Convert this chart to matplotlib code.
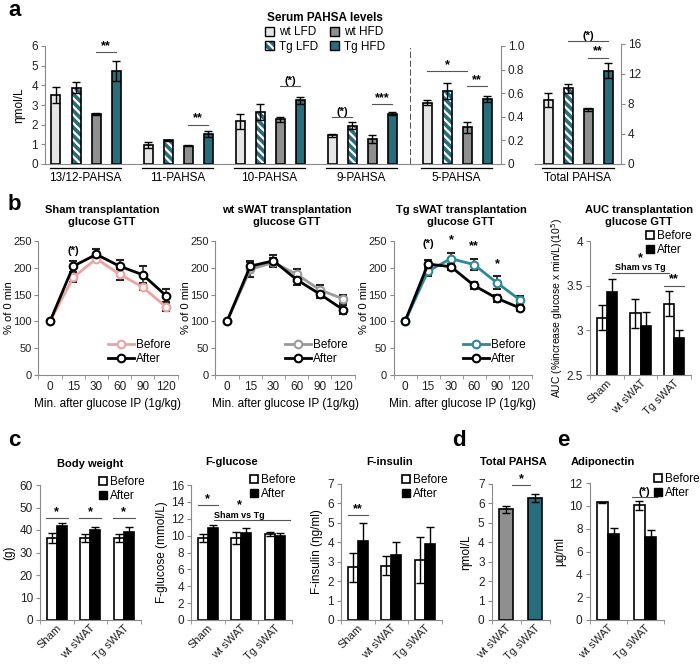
import numpy as np
import matplotlib
matplotlib.use('Agg')
import matplotlib.pyplot as plt
from matplotlib.patches import Patch
from matplotlib.lines import Line2D

plt.rcParams['font.family'] = ['Liberation Sans', 'DejaVu Sans']
plt.rcParams['hatch.linewidth'] = 1.6

# ---- panel a data (nmol/L) ----
pahsa_groups = ['13/12-PAHSA', '11-PAHSA', '10-PAHSA', '9-PAHSA']
wt_lfd = [3.5, 0.97, 2.18, 1.47]
wt_lfd_err = [0.4, 0.16, 0.38, 0.08]
tg_lfd = [3.87, 1.21, 2.64, 1.95]
tg_lfd_err = [0.28, 0.03, 0.42, 0.17]
wt_hfd = [2.55, 0.92, 2.28, 1.28]
wt_hfd_err = [0.05, 0.03, 0.12, 0.2]
tg_hfd = [4.73, 1.53, 3.24, 2.55]
tg_hfd_err = [0.5, 0.16, 0.17, 0.07]

five_pahsa = [0.52, 0.62, 0.31, 0.55]
five_pahsa_err = [0.02, 0.07, 0.05, 0.025]
total_pahsa = [8.5, 10.1, 7.3, 12.4]
total_pahsa_err = [0.9, 0.6, 0.2, 1.0]
diet_labels = ['wt LFD', 'Tg LFD', 'wt HFD', 'Tg HFD']

# ---- panel b data (% of 0 min) ----
gtt_times = ['0', '15', '30', '60', '90', '120']
sham_before = [100, 182, 217, 188, 164, 127]
sham_before_err = [3, 8, 6, 10, 6, 7]
sham_after = [100, 203, 225, 203, 187, 148]
sham_after_err = [3, 10, 10, 12, 16, 12]
wt_before = [100, 197, 210, 188, 159, 142]
wt_before_err = [3, 14, 8, 10, 9, 8]
wt_after = [100, 203, 213, 178, 151, 122]
wt_after_err = [3, 10, 10, 10, 8, 8]
tg_before = [100, 194, 217, 206, 172, 140]
tg_before_err = [3, 10, 10, 10, 12, 7]
tg_after = [100, 207, 202, 167, 143, 125]
tg_after_err = [3, 8, 6, 7, 7, 5]

transplant = ['Sham', 'wt sWAT', 'Tg sWAT']
auc_before = [3.14, 3.19, 3.30]
auc_before_err = [0.14, 0.16, 0.14]
auc_after = [3.43, 3.05, 2.91]
auc_after_err = [0.15, 0.16, 0.09]

# ---- panel c/d/e data ----
bw_before = [36.5, 36.5, 36.5]
bw_before_err = [2.3, 1.8, 1.7]
bw_after = [41.8, 40.0, 39.3]
bw_after_err = [1.4, 1.3, 2.0]
fg_before = [9.7, 9.7, 10.2]
fg_before_err = [0.5, 0.75, 0.25]
fg_after = [10.9, 10.3, 10.0]
fg_after_err = [0.4, 0.6, 0.35]
fi_before = [2.72, 2.8, 3.1]
fi_before_err = [0.75, 0.5, 1.17]
fi_after = [4.05, 3.33, 3.93]
fi_after_err = [0.95, 0.67, 0.85]
sub_labels = ['wt sWAT', 'Tg sWAT']
sub_pahsa = [5.69, 6.27]
sub_pahsa_err = [0.17, 0.22]
adipo_before = [10.3, 10.05]
adipo_before_err = [0.07, 0.4]
adipo_after = [7.5, 7.25]
adipo_after_err = [0.6, 0.6]

TEAL = '#276d7c'
LIGHT = '#e6e6e6'
MID = '#8f8f8f'
AXC = '#8a8a8a'
HATCH = '\\\\\\\\'
W, H = 700, 665
TICK_FS = 8.5

fig = plt.figure(figsize=(7, 6.65), dpi=100)


def px_axes(x0, y0, x1, y1):
    ax = fig.add_axes([x0 / W, 1 - y1 / H, (x1 - x0) / W, (y1 - y0) / H])
    ax._px = (x0, x1)
    return ax


def ftext(x, y, s, **kw):
    fig.text(x / W, 1 - y / H, s, **kw)


def ylabel_at(ax, text, x_right, fs=8.5):
    # place rotated y label so its right edge sits at pixel x_right
    x0, x1 = ax._px
    ax.set_ylabel(text, fontsize=fs)
    ax.yaxis.set_label_coords((x_right - x0) / (x1 - x0), 0.5)


def excel_axes(ax, ylim, yticks, right=False, fs=TICK_FS):
    for s in ax.spines.values():
        s.set_visible(False)
    ax.spines['bottom'].set_visible(True)
    ax.spines['bottom'].set_color(AXC)
    side = 'right' if right else 'left'
    ax.spines[side].set_visible(True)
    ax.spines[side].set_color(AXC)
    if right:
        ax.yaxis.tick_right()
    ax.set_ylim(*ylim)
    ax.set_yticks(yticks)
    ax.tick_params(axis='y', colors=AXC, labelcolor='#222', length=3, labelsize=fs, pad=2)


def cat_ticks(ax, labels, rotate=True):
    n = len(labels)
    ax.set_xlim(-0.5, n - 0.5)
    ax.set_xticks(np.arange(n))
    if rotate:
        ax.set_xticklabels(labels, rotation=45, ha='right', rotation_mode='anchor', fontsize=8)
        ax.tick_params(axis='x', which='major', length=0, pad=2, labelcolor='#222')
    else:
        ax.set_xticklabels(labels, fontsize=TICK_FS)
        ax.tick_params(axis='x', which='major', length=0, pad=4, labelcolor='#222')
    ax.set_xticks(np.arange(n + 1) - 0.5, minor=True)
    ax.tick_params(axis='x', which='minor', length=3, color=AXC)


def sig(ax, x0, x1, y, label, fs=9):
    ax.plot([x0, x1], [y, y], color='#555', lw=0.8, clip_on=False)
    ax.text((x0 + x1) / 2, y, label, ha='center', va='bottom', fontsize=fs,
            fontweight='bold', clip_on=False)


ekw = dict(ecolor='black', elinewidth=1, capsize=3, capthick=1)


def four_bars(ax, xs, vals, errs):
    cols = [LIGHT, TEAL, MID, TEAL]
    for i in range(4):
        x = xs + i
        if i == 1:
            ax.bar(x, vals[i], 0.45, color=TEAL, edgecolor='white', hatch=HATCH, linewidth=0)
            ax.bar(x, vals[i], 0.45, yerr=errs[i], fill=False, edgecolor='black', linewidth=1.2, error_kw=ekw)
        else:
            ax.bar(x, vals[i], 0.45, yerr=errs[i], color=cols[i], edgecolor='black', linewidth=1.2, error_kw=ekw)


def group_label(ax, x0, x1, label):
    tr = ax.get_xaxis_transform()
    ax.plot([x0, x1], [-0.035, -0.035], color='black', lw=0.9, transform=tr, clip_on=False)
    ax.text((x0 + x1) / 2, -0.07, label, ha='center', va='top', fontsize=8.5, transform=tr)


def before_after(ax, before, before_err, after, after_err, w=0.3):
    x = np.arange(len(before))
    ax.bar(x - w / 2, before, w, yerr=before_err, color='white', edgecolor='black', linewidth=1.2, error_kw=ekw)
    ax.bar(x + w / 2, after, w, yerr=after_err, color='black', edgecolor='black', linewidth=1.2, error_kw=ekw)


def ba_legend(ax, x, y):
    hs = [Patch(facecolor='white', edgecolor='black', lw=1.2), Patch(facecolor='black', edgecolor='black')]
    ax.legend(hs, ['Before', 'After'], loc='upper left', bbox_to_anchor=(x / W, 1 - y / H),
              bbox_transform=fig.transFigure, frameon=False, fontsize=8.5, handlelength=0.7,
              handleheight=0.7, handletextpad=0.2, labelspacing=0.2, borderpad=0, borderaxespad=0)


# ================= panel a =================
ax_a = px_axes(45, 46, 411, 164)
excel_axes(ax_a, (0, 6), range(7))
ax_a.set_xlim(-0.55, 17.75)
ax_a.set_xticks([])
base = np.arange(4) * 4.6
four_bars(ax_a, base, [wt_lfd, tg_lfd, wt_hfd, tg_hfd], [wt_lfd_err, tg_lfd_err, wt_hfd_err, tg_hfd_err])
for g, name in enumerate(pahsa_groups):
    group_label(ax_a, base[g] - 0.3, base[g] + 3.25, name)
ylabel_at(ax_a, 'ηmol/L', 25)
ax_a.plot([17.75, 17.75], [0, 5.9], ls='--', color='#333', lw=1.2, clip_on=False)
sig(ax_a, 2, 3, 5.7, '**')
sig(ax_a, base[1] + 2, base[1] + 3, 2.0, '**')
sig(ax_a, base[2] + 2, base[2] + 3, 3.95, '(*)', fs=8)
sig(ax_a, base[3], base[3] + 1, 2.4, '(*)', fs=8)
sig(ax_a, base[3] + 2, base[3] + 3, 3.05, '***')

ax_5 = px_axes(411, 46, 501, 164)
excel_axes(ax_5, (0, 1.0), np.arange(0, 1.01, 0.2), right=True)
ax_5.set_yticklabels(['0', '0.2', '0.4', '0.6', '0.8', '1.0'])
ax_5.set_xlim(-0.8, 3.7)
ax_5.set_xticks([])
four_bars(ax_5, np.array([0.0]), [[v] for v in five_pahsa], [[e] for e in five_pahsa_err])
group_label(ax_5, -0.3, 3.25, '5-PAHSA')
sig(ax_5, 0, 2, 0.79, '*')
sig(ax_5, 2, 3, 0.66, '**')

ax_t = px_axes(535, 44, 621, 164)
excel_axes(ax_t, (0, 16), range(0, 17, 4), right=True)
ax_t.set_xlim(-0.65, 3.65)
ax_t.set_xticks([])
four_bars(ax_t, np.array([0.0]), [[v] for v in total_pahsa], [[e] for e in total_pahsa_err])
group_label(ax_t, -0.3, 3.3, 'Total PAHSA')
sig(ax_t, 1, 3, 16.4, '(*)', fs=8)
sig(ax_t, 2, 3, 14.2, '**')

leg_handles = [Patch(facecolor=LIGHT, edgecolor='black'),
               (Patch(facecolor=TEAL, edgecolor='white', hatch=HATCH, lw=0), Patch(fill=False, edgecolor='black')),
               Patch(facecolor=MID, edgecolor='black'),
               Patch(facecolor=TEAL, edgecolor='black')]
fig.legend(leg_handles, diet_labels, ncol=2, loc='upper center', bbox_to_anchor=(325 / W, 1 - 6 / H),
           title='Serum PAHSA levels', title_fontproperties={'weight': 'bold', 'size': 8.5},
           frameon=False, fontsize=8.5, handlelength=0.8, handleheight=0.8, handletextpad=0.4,
           columnspacing=1.0, labelspacing=0.2, borderpad=0)

# ================= panel b =================
def gtt_panel(x0, x1, before, before_err, after, after_err, color, title, tx, lx, ylx):
    ax = px_axes(x0, 241, x1, 375)
    excel_axes(ax, (0, 250), range(0, 251, 50), fs=8)
    cat_ticks(ax, gtt_times, rotate=False)
    x = np.arange(6)
    for v, e, c in [(before, before_err, color), (after, after_err, 'black')]:
        ax.errorbar(x, v, yerr=e, color=c, lw=2, marker='o', ms=5.5, mfc='white', mec=c, mew=1.5,
                    ecolor='#222', elinewidth=1.1, capsize=3, capthick=1.1)
    ylabel_at(ax, '% of 0 min', ylx, fs=8)
    ax.set_xlabel('Min. after glucose IP (1g/kg)', fontsize=8.5, labelpad=4)
    hs = [Line2D([0], [0], color=color, lw=2, marker='o', ms=5.5, mfc='white', mec=color, mew=1.5),
          Line2D([0], [0], color='black', lw=2, marker='o', ms=5.5, mfc='white', mec='black', mew=1.5)]
    ax.legend(hs, ['Before', 'After'], loc='upper left', bbox_to_anchor=(lx / W, 1 - 339 / H),
              bbox_transform=fig.transFigure, frameon=False, fontsize=8.5, handlelength=2.2,
              handletextpad=0.2, labelspacing=0.15, borderpad=0, borderaxespad=0)
    ftext(tx, 216, title, ha='center', va='center', fontsize=8, fontweight='bold', linespacing=1.25)
    return ax


ax_s = gtt_panel(38.4, 177.6, sham_before, sham_before_err, sham_after, sham_after_err, '#eea3a3',
                 'Sham transplantation\nglucose GTT', 102, 108, 14)
ax_s.text(1, 232, '(*)', ha='center', va='center', fontsize=8, fontweight='bold')
gtt_panel(215.4, 354.6, wt_before, wt_before_err, wt_after, wt_after_err, '#9a9a9a',
          'wt sWAT transplantation\nglucose GTT', 287, 285, 191)
ax_g = gtt_panel(393.5, 531.5, tg_before, tg_before_err, tg_after, tg_after_err, '#2f8798',
                 'Tg sWAT transplantation\nglucose GTT', 461, 463, 369)
for xi, yi, s in [(1, 244, '(*)'), (2, 252, '*'), (3, 240, '**'), (4, 207, '*')]:
    ax_g.text(xi, yi, s, ha='center', va='center', fontsize=9 if s != '(*)' else 8, fontweight='bold')

ax_auc = px_axes(590, 241, 691, 375)
excel_axes(ax_auc, (2.5, 4), [2.5, 3, 3.5, 4])
ax_auc.set_yticklabels(['2.5', '3', '3.5', '4'])
cat_ticks(ax_auc, transplant)
before_after(ax_auc, auc_before, auc_before_err, auc_after, auc_after_err)
ax_auc.set_ylabel('AUC (%increase glucose x min/L)(10$^5$)', fontsize=7.5, labelpad=1)
ax_auc.plot([0.15, 1.85], [3.64, 3.64], color='#555', lw=0.8)
ax_auc.text(1.0, 3.65, 'Sham vs Tg', ha='center', va='bottom', fontsize=6.5, fontweight='bold')
ax_auc.text(1.0, 3.74, '*', ha='center', va='bottom', fontsize=9, fontweight='bold')
sig(ax_auc, 1.7, 2.3, 3.5, '**')
ba_legend(ax_auc, 646, 230)
ftext(639, 216, 'AUC transplantation\nglucose GTT', ha='center', va='center', fontsize=8,
      fontweight='bold', linespacing=1.25)

# ================= panel c =================
ax_bw = px_axes(40, 485, 140.5, 620)
excel_axes(ax_bw, (0, 60), range(0, 61, 10))
cat_ticks(ax_bw, transplant)
before_after(ax_bw, bw_before, bw_before_err, bw_after, bw_after_err)
ylabel_at(ax_bw, '(g)', 15)
for g in range(3):
    sig(ax_bw, g - 0.33, g + 0.33, 45.3, '*')
ba_legend(ax_bw, 99, 476)
ftext(90, 464, 'Body weight', ha='center', va='center', fontsize=8, fontweight='bold')

ax_fg = px_axes(191, 485, 291.5, 620)
excel_axes(ax_fg, (0, 16), range(0, 17, 2))
cat_ticks(ax_fg, transplant)
before_after(ax_fg, fg_before, fg_before_err, fg_after, fg_after_err)
ax_fg.set_ylabel('F-glucose (mmol/L)', fontsize=8.5, labelpad=2)
sig(ax_fg, -0.3, 0.3, 13.6, '*')
ax_fg.plot([0.2, 2.45], [11.85, 11.85], color='#555', lw=0.8, clip_on=False)
ax_fg.text(0.95, 11.9, 'Sham vs Tg', ha='center', va='bottom', fontsize=6.5, fontweight='bold')
ax_fg.text(0.95, 12.9, '*', ha='center', va='bottom', fontsize=9, fontweight='bold')
ba_legend(ax_fg, 250, 474)
ftext(232, 462, 'F-glucose', ha='center', va='center', fontsize=8, fontweight='bold')

ax_fi = px_axes(341, 484, 441.5, 620)
excel_axes(ax_fi, (0, 7), range(8))
cat_ticks(ax_fi, transplant)
before_after(ax_fi, fi_before, fi_before_err, fi_after, fi_after_err)
ax_fi.set_ylabel('F-insulin (ηg/ml)', fontsize=8.5, labelpad=3)
sig(ax_fi, -0.3, 0.3, 5.4, '**')
ba_legend(ax_fi, 402, 474)
ftext(390, 462, 'F-insulin', ha='center', va='center', fontsize=8, fontweight='bold')

# ================= panel d =================
ax_d = px_axes(491.5, 484, 549.5, 620)
excel_axes(ax_d, (0, 7), range(8))
cat_ticks(ax_d, sub_labels)
ax_d.bar([0, 1], sub_pahsa, 0.45, yerr=sub_pahsa_err, color=[MID, TEAL], edgecolor='black',
         linewidth=1.2, error_kw=ekw)
ax_d.set_ylabel('ηmol/L', fontsize=8.5, labelpad=4)
sig(ax_d, 0.2, 0.83, 6.95, '*')
ftext(513, 462, 'Total PAHSA', ha='center', va='center', fontsize=8, fontweight='bold')

# ================= panel e =================
ax_e = px_axes(589.5, 483, 663.5, 620)
excel_axes(ax_e, (0, 12), range(0, 13, 2))
cat_ticks(ax_e, sub_labels)
before_after(ax_e, adipo_before, adipo_before_err, adipo_after, adipo_after_err)
ax_e.set_ylabel('µg/ml', fontsize=8.5, labelpad=2)
sig(ax_e, 0.65, 1.32, 10.77, '(*)', fs=8)
ba_legend(ax_e, 654, 473)
ftext(603, 462, 'Adiponectin', ha='center', va='center', fontsize=8, fontweight='bold')

# panel letters
for x, y, s in [(8, 10, 'a'), (8, 205, 'b'), (8, 441, 'c'), (452, 441, 'd'), (557, 441, 'e')]:
    ftext(x, y, s, ha='left', va='center', fontsize=16, fontweight='bold')

fig.savefig('out.png', dpi=100)
